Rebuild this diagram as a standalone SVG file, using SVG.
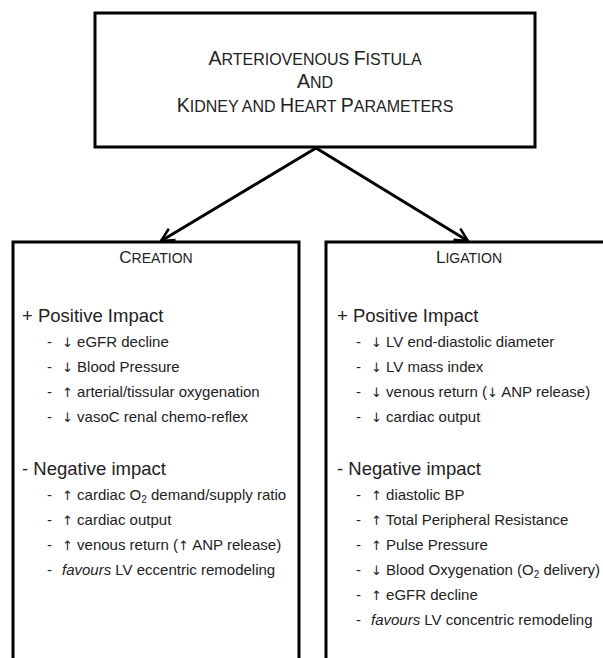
<svg xmlns="http://www.w3.org/2000/svg" width="603" height="658" viewBox="0 0 603 658">
<style>
.box{fill:#fff;stroke:#000;stroke-width:3}
.t{font-family:"Liberation Sans",Arial,sans-serif;fill:#222}
.title{font-size:16px}
.big{font-size:19.5px}
.sc{font-size:14px}
.bigs{font-size:17px}
.hd{font-size:18.5px}
.it{font-size:15px}
.sub{font-size:10px}
.ar{font-family:"DejaVu Sans","Liberation Sans",sans-serif;font-size:13px;fill:#222}
.conn{stroke:#000;stroke-width:3;fill:none}
</style>
<defs>
<marker id="ah" viewBox="0 0 16 16" refX="14" refY="8" markerWidth="16" markerHeight="16" markerUnits="userSpaceOnUse" orient="auto">
<polyline points="1,1.5 14,8 1,14.5" fill="none" stroke="#000" stroke-width="2.5"/>
</marker>
</defs>
<rect width="603" height="658" fill="#fff"/>
<g id="connectors">
<line class="conn" x1="316" y1="148" x2="161" y2="241" marker-end="url(#ah)"/>
<line class="conn" x1="316" y1="148" x2="468" y2="241" marker-end="url(#ah)"/>
</g>
<g id="title-node">
<rect class="box" x="95" y="13" width="440" height="134"/>
<text class="t title" x="315" y="65" text-anchor="middle"><tspan class="big">A</tspan>RTERIOVENOUS <tspan class="big">F</tspan>ISTULA</text>
<text class="t title" x="315" y="88" text-anchor="middle"><tspan class="big">A</tspan>ND</text>
<text class="t title" x="315" y="112" text-anchor="middle"><tspan class="big">K</tspan>IDNEY AND <tspan class="big">H</tspan>EART <tspan class="big">P</tspan>ARAMETERS</text>
</g>
<g id="creation-node">
<rect class="box" x="13" y="242" width="286" height="430"/>
<text class="t sc" x="156" y="263" text-anchor="middle"><tspan class="bigs">C</tspan>REATION</text>
<text class="t hd" x="22" y="322">+ Positive Impact</text>
<text class="t it" x="47" y="347">-</text><text class="t it" x="62" y="347"><tspan class="ar">↓</tspan> eGFR decline</text>
<text class="t it" x="47" y="372">-</text><text class="t it" x="62" y="372"><tspan class="ar">↓</tspan> Blood Pressure</text>
<text class="t it" x="47" y="397">-</text><text class="t it" x="62" y="397"><tspan class="ar">↑</tspan> arterial/tissular oxygenation</text>
<text class="t it" x="47" y="422">-</text><text class="t it" x="62" y="422"><tspan class="ar">↓</tspan> vasoC renal chemo-reflex</text>
<text class="t hd" x="22" y="475">- Negative impact</text>
<text class="t it" x="47" y="500">-</text><text class="t it" x="62" y="500"><tspan class="ar">↑</tspan> cardiac O<tspan class="sub" dy="3">2</tspan><tspan dy="-3"> demand/supply ratio</tspan></text>
<text class="t it" x="47" y="525">-</text><text class="t it" x="62" y="525"><tspan class="ar">↑</tspan> cardiac output</text>
<text class="t it" x="47" y="550">-</text><text class="t it" x="62" y="550"><tspan class="ar">↑</tspan> venous return (<tspan class="ar">↑</tspan> ANP release)</text>
<text class="t it" x="47" y="575">-</text><text class="t it" x="62" y="575"><tspan font-style="italic">favours</tspan> LV eccentric remodeling</text>
</g>
<g id="ligation-node">
<rect class="box" x="326" y="242" width="300" height="430"/>
<text class="t sc" x="469" y="263" text-anchor="middle"><tspan class="bigs">L</tspan>IGATION</text>
<text class="t hd" x="337" y="322">+ Positive Impact</text>
<text class="t it" x="356" y="347">-</text><text class="t it" x="371" y="347"><tspan class="ar">↓</tspan> LV end-diastolic diameter</text>
<text class="t it" x="356" y="372">-</text><text class="t it" x="371" y="372"><tspan class="ar">↓</tspan> LV mass index</text>
<text class="t it" x="356" y="397">-</text><text class="t it" x="371" y="397"><tspan class="ar">↓</tspan> venous return (<tspan class="ar">↓</tspan> ANP release)</text>
<text class="t it" x="356" y="422">-</text><text class="t it" x="371" y="422"><tspan class="ar">↓</tspan> cardiac output</text>
<text class="t hd" x="337" y="475">- Negative impact</text>
<text class="t it" x="356" y="500">-</text><text class="t it" x="371" y="500"><tspan class="ar">↑</tspan> diastolic BP</text>
<text class="t it" x="356" y="525">-</text><text class="t it" x="371" y="525"><tspan class="ar">↑</tspan> Total Peripheral Resistance</text>
<text class="t it" x="356" y="550">-</text><text class="t it" x="371" y="550"><tspan class="ar">↑</tspan> Pulse Pressure</text>
<text class="t it" x="356" y="575">-</text><text class="t it" x="371" y="575"><tspan class="ar">↓</tspan> Blood Oxygenation (O<tspan class="sub" dy="3">2</tspan><tspan dy="-3"> delivery)</tspan></text>
<text class="t it" x="356" y="600">-</text><text class="t it" x="371" y="600"><tspan class="ar">↑</tspan> eGFR decline</text>
<text class="t it" x="356" y="625">-</text><text class="t it" x="371" y="625"><tspan font-style="italic">favours</tspan> LV concentric remodeling</text>
</g>
</svg>
